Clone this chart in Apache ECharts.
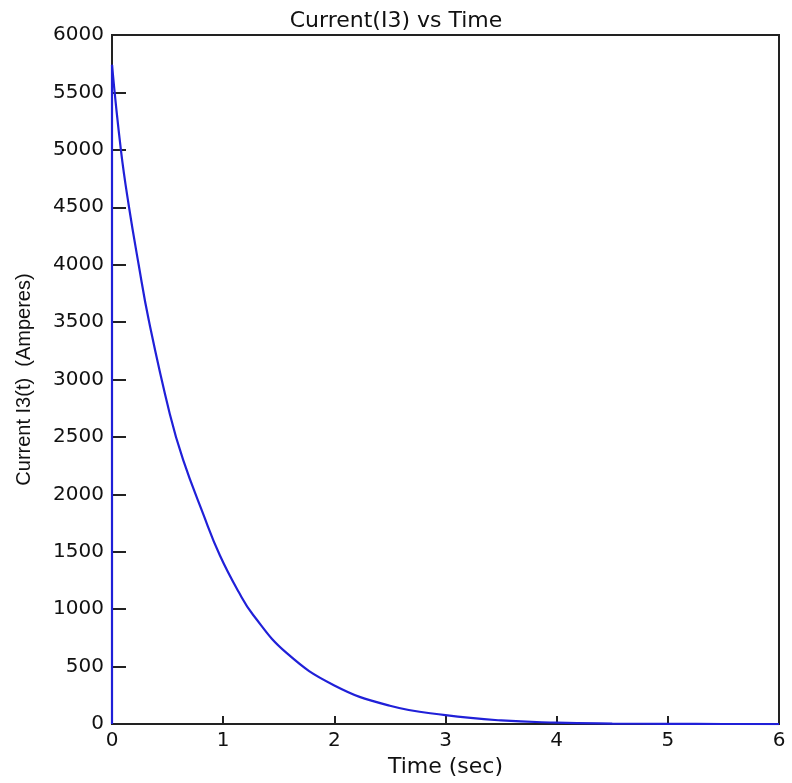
<!DOCTYPE html>
<html>
<head>
<meta charset="utf-8">
<script src="https://cdn.jsdelivr.net/npm/echarts@6/dist/echarts.min.js"></script>
<style>
html,body{margin:0;padding:0;background:#fff;}
#chart{width:792px;height:783px;}
</style>
</head>
<body>
<div id="chart"></div>
<script>
// Data
const titleText = 'Current(I3) vs Time';
const xAxisName = 'Time (sec)';
const yAxisName = 'Current I3(t)  (Amperes)';

// initial jump at t = 0
const jumpTime = [0, 0];
const jumpCurrent = [0, 5740];

// decaying curve
const timeSec = [0, 0.08, 0.15, 0.24, 0.33, 0.52, 0.64, 0.82, 0.97, 1.14, 1.27, 1.57, 2.0, 2.5, 3.0, 3.5, 4.0, 4.5, 5.0, 5.5, 6.0];
const currentAmp = [5740, 5000, 4520, 4000, 3520, 2700, 2300, 1830, 1470, 1150, 950, 620, 337, 160, 78, 32, 13, 5, 2, 1, 0];

const xTicks = [0, 1, 2, 3, 4, 5, 6];
const yTicks = [0, 500, 1000, 1500, 2000, 2500, 3000, 3500, 4000, 4500, 5000, 5500, 6000];

const chart = echarts.init(document.getElementById('chart'), null, {renderer: 'canvas'});
const lineColor = '#2020d8';
const axisColor = '#222';
const tickFont = 'DejaVu Sans';

chart.setOption({
  animation: false,
  backgroundColor: '#fff',
  title: {
    text: titleText,
    left: 'center',
    top: 5,
    textStyle: {fontFamily: tickFont, fontSize: 22, fontWeight: 'normal', color: '#111'}
  },
  grid: {
    left: 112, right: 13, top: 35, bottom: 52,
    show: true, borderColor: axisColor, borderWidth: 2, backgroundColor: '#fff'
  },
  xAxis: {
    type: 'value',
    min: xTicks[0], max: xTicks[xTicks.length - 1], interval: 1,
    name: xAxisName,
    nameLocation: 'middle',
    nameGap: 27,
    nameTextStyle: {fontFamily: tickFont, fontSize: 22, color: '#111'},
    axisLine: {show: true, onZero: false, lineStyle: {color: axisColor, width: 2}},
    axisTick: {show: true, inside: true, length: 8, lineStyle: {color: axisColor, width: 2}},
    axisLabel: {fontFamily: tickFont, fontSize: 20, color: '#111', margin: 7, formatter: v => String(v)},
    splitLine: {show: false}
  },
  yAxis: {
    type: 'value',
    min: yTicks[0], max: yTicks[yTicks.length - 1], interval: 500,
    name: yAxisName,
    nameLocation: 'middle',
    nameGap: 78,
    nameTextStyle: {fontFamily: 'Liberation Sans', fontSize: 20, color: '#111'},
    axisLine: {show: true, onZero: false, lineStyle: {color: axisColor, width: 2}},
    axisTick: {show: true, inside: true, length: 14, lineStyle: {color: axisColor, width: 2}},
    axisLabel: {fontFamily: tickFont, fontSize: 20, color: '#111', margin: 8, formatter: v => String(v)},
    splitLine: {show: false}
  },
  series: [
    {
      type: 'line',
      data: jumpTime.map((t, i) => [t, jumpCurrent[i]]),
      showSymbol: false,
      lineStyle: {color: lineColor, width: 2.2},
      z: 3
    },
    {
      type: 'line',
      data: timeSec.map((t, i) => [t, currentAmp[i]]),
      showSymbol: false,
      smooth: 0.45,
      lineStyle: {color: lineColor, width: 2.2},
      z: 3
    }
  ]
});
</script>
</body>
</html>
